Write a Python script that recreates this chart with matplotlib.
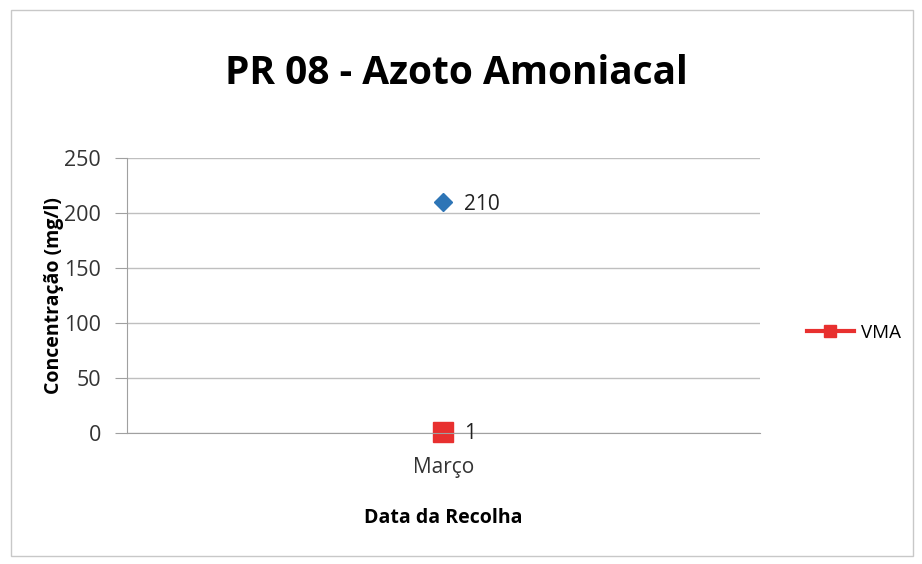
import numpy as np
import matplotlib.pyplot as plt
from matplotlib.patches import Rectangle

categories = ['Março']
pr08_values = [210]
vma_values = [1]

plt.rcParams['font.family'] = ['Open Sans', 'DejaVu Sans']

fig = plt.figure(figsize=(9.22, 5.64), dpi=100)
fig.patches.append(Rectangle((0.012, 0.015), 0.978, 0.968, transform=fig.transFigure,
                             fill=False, edgecolor='#c8c8c8', linewidth=1.0))
ax = fig.add_axes([0.138, 0.232, 0.686, 0.488])

x = np.arange(len(categories))
ax.plot(x, pr08_values, linestyle='none', marker='D', markersize=9,
        color='#2e75b6', label='PR 08', clip_on=False)
ax.plot(x, vma_values, color='#e8302f', linewidth=3, marker='s', markersize=14,
        label='VMA', clip_on=False)

for xi, v in zip(x, pr08_values):
    ax.annotate(str(v), (xi, v), xytext=(15, -2), textcoords='offset points',
                va='center', ha='left', fontsize=15, color='#222222')
for xi, v in zip(x, vma_values):
    ax.annotate(str(v), (xi, v), xytext=(15, -1), textcoords='offset points',
                va='center', ha='left', fontsize=15, color='#222222')

ax.set_xlim(-0.5, 0.5)
ax.set_ylim(0, 250)
ax.set_yticks(np.arange(0, 251, 50))
ax.set_xticks(x)
ax.set_xticklabels(categories)
ax.yaxis.grid(True, color='#bfbfbf', linewidth=1)
ax.set_axisbelow(True)
for s in ['top', 'right']:
    ax.spines[s].set_visible(False)
ax.spines['left'].set_color('#a0a0a0')
ax.spines['bottom'].set_color('#a0a0a0')
ax.tick_params(axis='y', length=9, color='#a0a0a0', labelsize=15.5, labelcolor='#333333', pad=10)
ax.tick_params(axis='x', length=6, color='#a0a0a0', labelsize=15, labelcolor='#333333', pad=11)

ax.set_ylabel('Concentração (mg/l)', fontsize=14, fontweight='bold', labelpad=0)
ax.set_xlabel('Data da Recolha', fontsize=14, fontweight='bold', labelpad=22)
fig.suptitle('PR 08 - Azoto Amoniacal', fontsize=28, fontweight='bold', y=0.905, x=0.495)

handles, labels = ax.get_legend_handles_labels()
fig.legend(handles[1:], labels[1:], loc='center left', bbox_to_anchor=(0.857, 0.41),
           frameon=False, fontsize=13.5, handlelength=2.5, handletextpad=0.4,
           markerscale=0.6)

fig.savefig('out.png', dpi=100)
